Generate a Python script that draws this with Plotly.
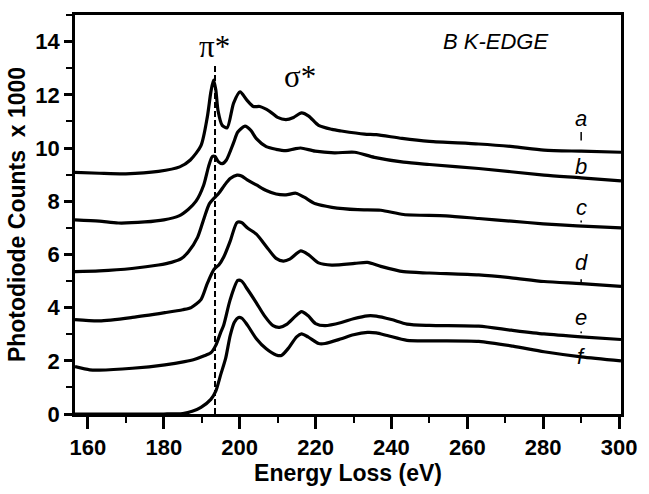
import plotly.graph_objects as go

# ---------------- data ----------------
energy_a = [156.6, 163, 170, 178.6, 184.2, 187.0, 189.8, 191.5, 192.4, 193.1, 193.7, 194.3, 195.4, 196.7,
            198.4, 200.1, 201.9, 203.6, 205.3, 207.9, 210.0, 212.2, 214.2, 216.3, 218.2, 220.8, 224.3,
            226.8, 232.9, 236, 242.8, 250, 263.0, 272, 280.2, 290, 300.5]
counts_a = [9.08, 9.05, 9.03, 9.12, 9.29, 9.55, 10.09, 11.19, 12.1, 12.55, 12.2, 11.4, 10.85, 10.76,
            11.69, 12.11, 11.8, 11.56, 11.56, 11.38, 11.15, 11.07, 11.15, 11.32, 11.2, 10.85, 10.7,
            10.64, 10.52, 10.5, 10.36, 10.25, 10.15, 10.05, 9.92, 9.88, 9.84]

energy_b = [156.6, 163, 168, 175, 180, 184, 186.5, 188.5, 190.5, 191.8, 192.8, 193.5, 194.3, 195.4, 196.5,
            198.4, 199.5, 201.4, 203, 204.4, 207, 209.6, 212.2, 214.5, 216.1, 219.9, 225, 230.3, 235.5,
            243.2, 250, 263, 280.2, 290, 300.5]
counts_b = [7.3, 7.25, 7.18, 7.22, 7.3, 7.45, 7.7, 8.0, 8.6, 9.3, 9.68, 9.68, 9.5, 9.41, 9.55,
            10.2, 10.6, 10.82, 10.65, 10.35, 10.05, 9.95, 9.9, 9.97, 10.0, 9.88, 9.82, 9.84, 9.65,
            9.47, 9.38, 9.23, 8.98, 8.88, 8.76]

energy_c = [156.6, 163, 171.6, 178.6, 182, 184.6, 186.5, 188.9, 190.7, 192.0, 193.3, 194.5, 196, 197.5,
            199.3, 200.5, 202, 204.4, 207, 209.6, 212.2, 214.8, 217, 220, 224.3, 231.1, 237.2, 243.2,
            254.4, 263, 271.6, 280, 288.9, 300.5]
counts_c = [5.35, 5.38, 5.47, 5.6, 5.7, 5.84, 6.1, 6.64, 7.4, 7.9, 8.12, 8.3, 8.6, 8.85,
            8.98, 8.95, 8.8, 8.61, 8.4, 8.27, 8.24, 8.3, 8.15, 7.9, 7.77, 7.68, 7.66, 7.5,
            7.45, 7.35, 7.25, 7.15, 7.07, 7.0]

energy_d = [156.6, 163, 171.7, 180.3, 185, 187.2, 189.8, 191.5, 193.3, 194.5, 195.8, 197.5, 199.3, 200.5,
            202, 204.4, 207, 209.6, 211.5, 213.2, 216.1, 218.2, 220.8, 224.3, 230.3, 233.7, 237.2,
            243.2, 250, 263, 271.6, 280.2, 290, 300.5]
counts_d = [3.55, 3.5, 3.63, 3.81, 3.92, 4.0, 4.3, 4.92, 5.45, 5.6, 5.9, 6.5, 7.2, 7.2,
            7.0, 6.76, 6.3, 5.85, 5.75, 5.82, 6.13, 5.98, 5.68, 5.6, 5.66, 5.7, 5.55,
            5.35, 5.3, 5.23, 5.12, 4.98, 4.9, 4.8]

energy_e = [156.6, 160.5, 163, 171.7, 180.3, 185.5, 188, 190.5, 192.4, 193.7, 195.0, 195.8, 197.5, 199.5,
            200.5, 202, 204.4, 206.5, 208.8, 210.5, 212.5, 214.5, 216.3, 218, 220, 222.5, 226.8, 230,
            233.7, 236, 240, 244.1, 250, 263, 271.6, 280.2, 290, 300.5]
counts_e = [1.78, 1.66, 1.65, 1.72, 1.85, 1.97, 2.05, 2.18, 2.3, 2.58, 3.07, 3.35, 4.3, 5.02,
            5.0, 4.7, 4.18, 3.7, 3.32, 3.26, 3.38, 3.65, 3.85, 3.7, 3.4, 3.32, 3.44, 3.58,
            3.69, 3.68, 3.55, 3.38, 3.33, 3.3, 3.15, 3.01, 2.9, 2.8]

energy_f = [156.6, 170, 180, 185, 187.5, 189.8, 192.4, 193.7, 195, 196.3, 197.5, 198.6, 199.7, 200.6,
            202, 204.4, 207, 209.6, 211, 213, 215, 216.3, 218, 220.8, 222.5, 226.8, 230, 233.7, 236,
            238.9, 244.1, 250, 263, 272, 280.2, 290, 300.5]
counts_f = [0.0, 0.0, 0.0, 0.02, 0.1, 0.25, 0.55, 0.86, 1.48, 2.09, 2.95, 3.45, 3.63, 3.6,
            3.35, 2.83, 2.45, 2.22, 2.2, 2.5, 2.9, 3.01, 2.9, 2.65, 2.65, 2.83, 2.98, 3.07, 3.05,
            2.95, 2.77, 2.75, 2.73, 2.55, 2.34, 2.15, 2.0]

series_labels = ["a", "b", "c", "d", "e", "f"]
label_energy = 290
label_counts = [11.1, 9.3, 7.75, 5.68, 3.64, 2.15]

pi_star_energy = 193.5
pi_star_top = 13.1

x_ticks = [160, 180, 200, 220, 240, 260, 280, 300]
y_ticks = [0, 2, 4, 6, 8, 10, 12, 14]

# ---------------- figure ----------------
fig = go.Figure()

series = [(energy_a, counts_a), (energy_b, counts_b), (energy_c, counts_c),
          (energy_d, counts_d), (energy_e, counts_e), (energy_f, counts_f)]
for (xs, ys), name in zip(series, series_labels):
    fig.add_trace(go.Scatter(x=xs, y=ys, mode="lines", name=name,
                             line=dict(color="black", width=3.2, shape="spline", smoothing=0.7),
                             showlegend=False, hoverinfo="skip"))

fig.add_trace(go.Scatter(x=[pi_star_energy, pi_star_energy], y=[0, pi_star_top], mode="lines",
                         line=dict(color="black", width=2, dash="6px,3px"),
                         showlegend=False, hoverinfo="skip"))

label_font = dict(family="Liberation Sans, Arial, sans-serif", size=22, color="black", style="italic")
for lab, yv in zip(series_labels, label_counts):
    fig.add_annotation(x=label_energy, y=yv, text=lab, showarrow=False, font=label_font,
                       xanchor="center", yanchor="middle")

# small leader marks near the labels
marks = [(10.28, 10.6), (7.2, 7.27), (4.92, 5.07), (3.04, 3.1)]
for y0, y1 in marks:
    fig.add_shape(type="line", x0=label_energy, x1=label_energy, y0=y0, y1=y1,
                  line=dict(color="black", width=1.5), xref="x", yref="y")

serif = dict(family="Liberation Serif, Times New Roman, serif", size=31, color="black")
fig.add_annotation(x=193.3, y=13.8, text="π*", showarrow=False, font=serif,
                   xanchor="center", yanchor="middle")
fig.add_annotation(x=215.8, y=12.7, text="σ*", showarrow=False, font=serif,
                   xanchor="center", yanchor="middle")
fig.add_annotation(x=267.5, y=14.0, text="B K-EDGE", showarrow=False,
                   font=dict(family="Liberation Sans, Arial, sans-serif", size=22,
                             color="black", style="italic"),
                   xanchor="center", yanchor="middle")

tick_font = dict(family="Liberation Sans, Arial, sans-serif", size=22, color="black", weight="bold")
title_font = dict(family="Liberation Sans, Arial, sans-serif", size=23, color="black", weight="bold")

fig.update_layout(
    width=649, height=494,
    margin=dict(l=75, r=17, t=13, b=74),
    paper_bgcolor="white", plot_bgcolor="white",
    xaxis=dict(range=[156.6, 300.5], tickmode="array", tickvals=x_ticks,
               ticks="outside", ticklen=12, tickwidth=2.5, tickcolor="black",
               showline=True, linewidth=2.5, linecolor="black", mirror=True,
               showgrid=False, zeroline=False, tickfont=tick_font,
               minor=dict(tickmode="linear", tick0=170, dtick=20, ticks="outside",
                          ticklen=6, tickwidth=2, tickcolor="black"),
               title=dict(text="Energy Loss (eV)", font=title_font, standoff=6)),
    yaxis=dict(range=[0, 15], tickmode="array", tickvals=y_ticks,
               ticks="outside", ticklen=8, tickwidth=2.5, tickcolor="black",
               showline=True, linewidth=2.5, linecolor="black", mirror=True,
               showgrid=False, zeroline=False, tickfont=tick_font,
               minor=dict(tickmode="linear", tick0=1, dtick=2, ticks="outside",
                          ticklen=6, tickwidth=2, tickcolor="black"),
               title=dict(text="Photodiode Counts  x 1000", font=title_font, standoff=4)),
)

fig.write_html("out.html")
